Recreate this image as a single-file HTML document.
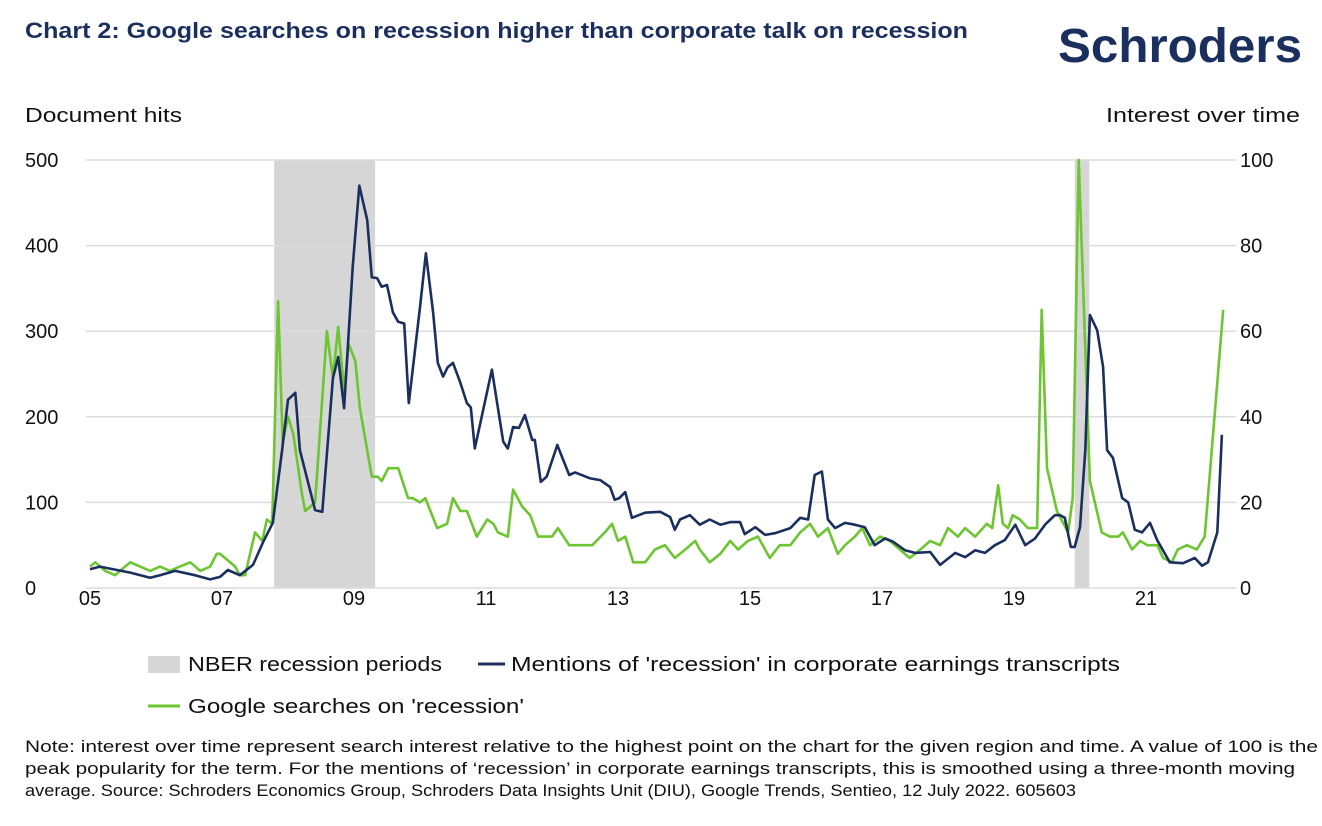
<!DOCTYPE html>
<html><head><meta charset="utf-8">
<style>
body{margin:0;background:#fff;width:1322px;height:826px;overflow:hidden;font-family:"Liberation Sans",sans-serif;position:relative}
</style></head><body>
<svg id="chart" width="1322" height="826" style="position:absolute;left:0;top:0;font-family:'Liberation Sans',sans-serif"></svg>
<script>
const leftTicks=[0,100,200,300,400,500];
const rightTicks=[0,20,40,60,80,100];
const xTickYears=[2005,2007,2009,2011,2013,2015,2017,2019,2021];
const xTickLabels=["05","07","09","11","13","15","17","19","21"];
const recessionStarts=[2007.79,2019.92];
const recessionEnds=[2009.32,2020.14];
const navyYears=[0,.15,.61,.91,1.06,1.29,1.59,1.82,1.97,2.09,2.27,2.47,2.62,2.77,2.91,3.0,3.11,3.18,3.41,3.52,3.68,3.76,3.85,3.98,4.08,4.20,4.27,4.35,4.42,4.50,4.59,4.67,4.76,4.83,5.0,5.09,5.20,5.27,5.35,5.42,5.50,5.61,5.71,5.77,5.83,6.09,6.26,6.33,6.41,6.50,6.59,6.70,6.74,6.83,6.92,7.08,7.26,7.35,7.58,7.73,7.88,7.95,8.02,8.11,8.21,8.41,8.64,8.79,8.86,8.94,9.09,9.24,9.39,9.55,9.70,9.85,9.92,10.08,10.23,10.38,10.61,10.76,10.88,10.98,11.09,11.18,11.29,11.44,11.59,11.74,11.89,12.05,12.17,12.35,12.5,12.73,12.88,13.11,13.26,13.41,13.56,13.71,13.86,14.02,14.17,14.32,14.47,14.62,14.70,14.77,14.86,14.92,15.0,15.08,15.15,15.26,15.35,15.41,15.50,15.64,15.73,15.83,15.94,16.06,16.17,16.36,16.56,16.74,16.85,16.94,17.08,17.15];
const navyValues=[22,25,18,12,15,20,15,10,13,21,15,27,53,76,161,220,228,161,91,89,245,270,210,375,470,430,363,362,352,354,322,311,309,216,328,391,321,263,247,258,263,240,216,211,163,255,171,163,188,187,202,173,173,124,130,167,132,135,128,126,118,103,105,112,82,88,89,83,68,80,85,74,80,74,77,77,63,71,62,64,70,82,80,132,136,80,70,76,74,71,50,58,54,44,41,42,27,41,36,44,41,50,56,74,50,58,74,85,85,82,48,48,71,161,319,301,258,161,152,105,100,68,65,76,56,30,29,35,26,30,65,179];
const greenYears=[
0,.08,.23,.38,.53,.61,.76,.91,1.06,1.21,
1.36,1.52,1.67,1.82,1.92,1.97,2.20,2.27,2.35,2.50,
2.61,2.68,2.76,2.85,2.92,3.0,3.08,3.21,3.26,3.41,
3.59,3.68,3.76,3.85,3.92,4.02,4.09,4.27,4.36,4.42,
4.52,4.67,4.82,4.89,5.0,5.08,5.26,5.41,5.50,5.61,
5.71,5.86,6.02,6.11,6.18,6.33,6.41,6.55,6.67,6.79,
7.0,7.09,7.26,7.42,7.61,7.80,7.91,8.0,8.11,8.23,
8.41,8.56,8.71,8.86,9.02,9.17,9.24,9.39,9.55,9.70,
9.82,9.97,10.12,10.30,10.45,10.61,10.76,10.91,11.03,11.18,
11.33,11.44,11.59,11.70,11.82,11.97,12.12,12.27,12.42,12.58,
12.73,12.88,13.0,13.15,13.26,13.41,13.59,13.67,13.76,13.83,
13.91,13.98,14.09,14.21,14.35,14.42,14.50,14.65,14.82,14.89,
14.98,15.08,15.15,15.33,15.45,15.58,15.65,15.79,15.91,16.02,
16.17,16.26,16.39,16.48,16.62,16.77,16.89,17.08,17.17];
const greenValues=[
5,6,4,3,5,6,5,4,5,4,
5,6,4,5,8,8,5,3,3,13,
11,16,15,67,34,40,36,22,18,20,
60,49,61,46,57,53,42,26,26,25,
28,28,21,21,20,21,14,15,21,18,
18,12,16,15,13,12,23,19,17,12,
12,14,10,10,10,13,15,11,12,6,
6,9,10,7,9,11,9,6,8,11,
9,11,12,7,10,10,13,15,12,14,
8,10,12,14,10,12,11,9,7,9,
11,10,14,12,14,12,15,14,24,15,
14,17,16,14,14,65,28,18,13,21,
100,56,25,13,12,12,13,9,11,10,
10,7,6,9,10,9,12,48,65];
const NS='http://www.w3.org/2000/svg';
const svg=document.getElementById('chart');
const X0=90,PX_PER_YEAR=66,Y0=588,YTOP=160;
const xScale=y=>X0+(y-2005)*PX_PER_YEAR;
const yLeft=v=>Y0-(v/500)*(Y0-YTOP);
const yRight=v=>Y0-(v/100)*(Y0-YTOP);
function mk(tag,attrs,text){const e=document.createElementNS(NS,tag);for(const k in attrs)e.setAttribute(k,attrs[k]);if(text!==undefined)e.textContent=text;svg.appendChild(e);return e;}
const title=mk('text',{x:25,y:38,'font-size':22,'font-weight':'bold',fill:'#1b2f5e',textLength:943,lengthAdjust:'spacingAndGlyphs'},'Chart 2: Google searches on recession higher than corporate talk on recession');


const logo=mk('text',{x:1058,y:62,'font-size':48,'font-weight':'bold',fill:'#1b2f5e',textLength:244,lengthAdjust:'spacingAndGlyphs'},'Schroders');


recessionStarts.forEach((s,i)=>{
  const r=mk('rect',{x:xScale(s),y:YTOP,width:xScale(recessionEnds[i])-xScale(s),height:Y0-YTOP,fill:'#d6d6d6'});
  
  
});
leftTicks.forEach((v,i)=>{
  const y=yLeft(v);
  const g=mk('line',{x1:86,x2:1236,y1:y,y2:y,stroke:'#dcdcdc','stroke-width':1.5});
  
  
  const l=mk('text',{x:25,y:y+7,'font-size':20,fill:'#111'},String(v));
  
  
  const r=mk('text',{x:1240,y:y+7,'font-size':20,fill:'#111'},String(rightTicks[i]));
  
  
});
xTickYears.forEach((yr,i)=>{
  const t=mk('text',{x:xScale(yr),y:605,'font-size':20,fill:'#111','text-anchor':'middle'},xTickLabels[i]);
  
  
});
function line(years,vals,sc,color,name){
  const d=years.map((y,i)=>(i?'L':'M')+xScale(2005+y).toFixed(1)+','+sc(vals[i]).toFixed(1)).join('');
  const p=mk('path',{d:d,fill:'none',stroke:color,'stroke-width':2.6,'stroke-linejoin':'round'});
  
  
}
line(greenYears,greenValues,yRight,'#6cc531','google-searches-line');
line(navyYears,navyValues,yLeft,'#1b2f5e','mentions-line');
const a=mk('text',{x:25,y:122,'font-size':20,fill:'#111',textLength:157,lengthAdjust:'spacingAndGlyphs'},'Document hits');


const b=mk('text',{x:1106,y:122,'font-size':20,fill:'#111',textLength:194,lengthAdjust:'spacingAndGlyphs'},'Interest over time');


const l1=mk('rect',{x:148,y:656,width:32,height:17,fill:'#d6d6d6'});


const t1=mk('text',{x:188,y:671,'font-size':20,fill:'#111',textLength:254,lengthAdjust:'spacingAndGlyphs'},'NBER recession periods');


const l2=mk('line',{x1:478,x2:505,y1:664,y2:664,stroke:'#1b2f5e','stroke-width':3});


const t2=mk('text',{x:511,y:671,'font-size':20,fill:'#111',textLength:609,lengthAdjust:'spacingAndGlyphs'},"Mentions of 'recession' in corporate earnings transcripts");


const l3=mk('line',{x1:148,x2:180,y1:706,y2:706,stroke:'#6cc531','stroke-width':3});


const t3=mk('text',{x:188,y:713,'font-size':20,fill:'#111',textLength:336,lengthAdjust:'spacingAndGlyphs'},"Google searches on 'recession'");


const noteLines=["Note: interest over time represent search interest relative to the highest point on the chart for the given region and time. A value of 100 is the","peak popularity for the term. For the mentions of ‘recession’ in corporate earnings transcripts, this is smoothed using a three-month moving","average. Source: Schroders Economics Group, Schroders Data Insights Unit (DIU), Google Trends, Sentieo, 12 July 2022. 605603"];
const noteWidths=[1293,1270,1051];
noteLines.forEach((s,i)=>{
  const n=mk('text',{x:25,y:752+i*22,'font-size':17,fill:'#111',textLength:noteWidths[i],lengthAdjust:'spacingAndGlyphs'},s);
  
  
});
</script>
</body></html>
